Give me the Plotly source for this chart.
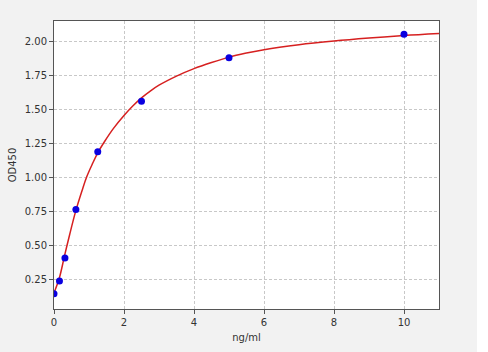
import plotly.graph_objects as go

# Standard points
conc = [0, 0.156, 0.3125, 0.625, 1.25, 2.5, 5, 10]
od = [0.142, 0.235, 0.404, 0.762, 1.188, 1.559, 1.881, 2.054]

# Fitted curve
curve_x = [0, 0.15, 0.3, 0.45, 0.62, 0.8, 0.93, 1.1, 1.25, 1.45, 1.7, 2.0, 2.25, 2.5,
           2.75, 3.0, 3.5, 4, 4.5, 5, 5.5, 6, 7, 8, 9, 10, 11]
curve_y = [0.147, 0.255, 0.42, 0.58, 0.75, 0.90, 1.00, 1.10, 1.18, 1.265, 1.36, 1.455, 1.525, 1.585,
           1.635, 1.678, 1.745, 1.80, 1.845, 1.885, 1.915, 1.94, 1.976, 2.003, 2.025, 2.044, 2.059]

x_ticks = [0, 2, 4, 6, 8, 10]
y_ticks = [0.25, 0.50, 0.75, 1.00, 1.25, 1.50, 1.75, 2.00]

fig = go.Figure()
fig.add_trace(go.Scatter(x=curve_x, y=curve_y, mode="lines",
                         line=dict(color="#d62020", width=1.5, shape="spline", smoothing=1.0),
                         hoverinfo="skip", showlegend=False))
fig.add_trace(go.Scatter(x=conc, y=od, mode="markers",
                         marker=dict(color="#0a00e0", size=7, line=dict(width=0)),
                         showlegend=False))

W, H = 488, 352
L, R, T, B = 54, 49, 21, 43
axis_common = dict(showline=True, linecolor="#555555", linewidth=1, mirror=True,
                   ticks="outside", ticklen=4, tickcolor="#555555", tickwidth=1,
                   showgrid=True, gridcolor="#c8c8c8", griddash="3px,2px", gridwidth=1,
                   zeroline=False, tickfont=dict(family="DejaVu Sans", size=10, color="#333333"))
fig.update_xaxes(range=[0, 11], tickvals=x_ticks, ticktext=[str(v) for v in x_ticks],
                 title=dict(text="ng/ml", font=dict(family="DejaVu Sans", size=10, color="#333333"), standoff=6),
                 **axis_common)
fig.update_yaxes(range=[0.029, 2.151], tickvals=y_ticks, ticktext=[f"{v:.2f}" for v in y_ticks],
                 title=dict(text="OD450", font=dict(family="DejaVu Sans", size=10, color="#333333"), standoff=6),
                 **axis_common)

# white strip at right edge of image
pw = W - L - R
x0 = (477 - L) / pw
fig.add_shape(type="rect", xref="paper", yref="paper", x0=x0, x1=x0 + 0.2, y0=-1, y1=2,
              fillcolor="white", line=dict(width=0), layer="below")

fig.update_layout(width=W, height=H, margin=dict(l=L, r=R, t=T, b=B),
                  paper_bgcolor="#f2f2f2", plot_bgcolor="white")
fig.write_html("out.html")
